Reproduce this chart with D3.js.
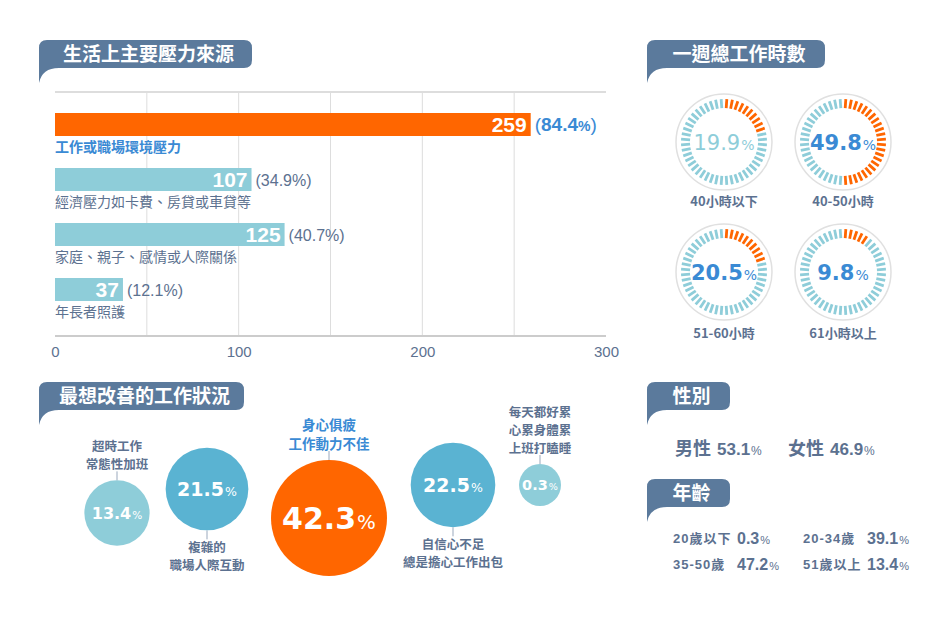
<!DOCTYPE html>
<html>
<head>
<meta charset="utf-8">
<script src="https://cdn.jsdelivr.net/npm/d3@7"></script>
<style>
  body { margin: 0; background: #fff; }
  svg { display: block; font-family: "Liberation Sans", "Noto Sans CJK TC", sans-serif; }
</style>
</head>
<body>
<div id="chart"></div>
<script>
const stressCategories = ["工作或職場環境壓力", "經濟壓力如卡費、房貸或車貸等", "家庭、親子、感情或人際關係", "年長者照護"];
const stressCounts = [259, 107, 125, 37];
const stressShares = [84.4, 34.9, 40.7, 12.1];
const stressTicks = [0, 100, 200, 300];

const hourLabels = ["40小時以下", "40-50小時", "51-60小時", "61小時以上"];
const hourShares = [19.9, 49.8, 20.5, 9.8];

const improveLabels = [
    ["超時工作", "常態性加班"],
    ["複雜的", "職場人際互動"],
    ["身心俱疲", "工作動力不佳"],
    ["自信心不足", "總是擔心工作出包"],
    ["每天都好累", "心累身體累", "上班打瞌睡"]
];
const improveShares = [13.4, 21.5, 42.3, 22.5, 0.3];

const genderLabels = ["男性", "女性"];
const genderShares = [53.1, 46.9];

const ageLabels = ["20歲以下", "20-34歲", "35-50歲", "51歲以上"];
const ageShares = [0.3, 39.1, 47.2, 13.4];

const width = 950;
const height = 617;
const col = {
    tab: "#5b7a9c",
    text: "#5c7190",
    blue: "#3a8ad4",
    orange: "#ff6600",
    teal: "#8ecdd9",
    mid: "#5ab3d2",
    grid: "#dddddd"
};
const CJK = '"Noto Sans CJK TC", sans-serif';
const NUM = '"DejaVu Sans", "Noto Sans CJK TC", sans-serif';

const svg = d3.select('#chart')
    .append('svg')
    .attr('width', width)
    .attr('height', height);

// speech-bubble style section header
function tab(x, y, w, label) {
    const h = 28, r = 8;
    const d = `M${x},${y + r} Q${x},${y} ${x + r},${y} H${x + w - r} Q${x + w},${y} ${x + w},${y + r}`
        + ` V${y + h - r} Q${x + w},${y + h} ${x + w - r},${y + h} H${x + 20} Q${x + 3},${y + h} ${x},${y + h + 15} Z`;
    svg.append('path').attr('d', d).attr('fill', col.tab);
    svg.append('text')
        .attr('x', x + w / 2 + 3)
        .attr('y', y + h / 2 + 7)
        .attr('text-anchor', 'middle')
        .attr('fill', '#fff')
        .attr('font-family', CJK)
        .attr('font-weight', 700)
        .attr('font-size', '19px')
        .text(label);
}

tab(39, 40, 213, "生活上主要壓力來源");
tab(647, 40, 178, "一週總工作時數");
tab(39, 382, 205, "最想改善的工作狀況");
tab(647, 382, 83, "性別");
tab(647, 479, 83, "年齡");

// ---------- bar chart ----------
const x = d3.scaleLinear()
    .domain([0, 300])
    .range([55, 606]);

const y = d3.scaleBand()
    .domain(d3.range(stressCounts.length))
    .range([113, 333]);

const barH = 23;
const gridTop = 92, gridBottom = 336;

svg.append('g')
    .selectAll('line')
    .data(d3.range(50, 300, 50))
    .join('line')
    .attr('x1', d => x(d)).attr('x2', d => x(d))
    .attr('y1', gridTop).attr('y2', gridBottom)
    .attr('stroke', col.grid)
    .attr('stroke-width', 1);

svg.append('line')
    .attr('x1', x(0)).attr('x2', x(300))
    .attr('y1', gridTop).attr('y2', gridTop)
    .attr('stroke', col.grid).attr('stroke-width', 2);

svg.append('line')
    .attr('x1', x(0)).attr('x2', x(300))
    .attr('y1', gridBottom).attr('y2', gridBottom)
    .attr('stroke', '#cccccc').attr('stroke-width', 2);

const bars = svg.append('g')
    .selectAll('g')
    .data(stressCounts)
    .join('g');

bars.append('rect')
    .attr('x', x(0))
    .attr('y', (d, i) => y(i))
    .attr('width', d => x(d) - x(0))
    .attr('height', barH)
    .attr('fill', (d, i) => i === 0 ? col.orange : col.teal);

bars.append('text')
    .attr('x', d => x(d) - 4)
    .attr('y', (d, i) => y(i) + barH / 2 + 7)
    .attr('text-anchor', 'end')
    .attr('fill', '#fff')
    .attr('font-weight', 700)
    .attr('font-size', '21px')
    .text(d => d);

bars.each(function (d, i) {
    const t = d3.select(this).append('text')
        .attr('x', x(d) + 4)
        .attr('y', y(i) + barH / 2 + 6);
    if (i === 0) {
        t.attr('fill', col.blue).attr('font-size', '19px');
        t.append('tspan').text('(');
        t.append('tspan').attr('font-weight', 700).text(stressShares[i]);
        t.append('tspan').attr('font-weight', 700).attr('font-size', '14px').text('%');
        t.append('tspan').text(')');
    } else {
        t.attr('fill', col.text).attr('font-size', '16px')
            .text(`(${stressShares[i]}%)`);
    }
});

bars.append('text')
    .attr('x', x(0))
    .attr('y', (d, i) => y(i) + 39)
    .attr('font-family', CJK)
    .attr('font-size', '14px')
    .attr('font-weight', (d, i) => i === 0 ? 700 : 400)
    .attr('fill', (d, i) => i === 0 ? col.blue : col.text)
    .text((d, i) => stressCategories[i]);

const xAxis = svg.append('g')
    .attr('transform', `translate(0, ${gridBottom})`)
    .call(d3.axisBottom(x).tickValues(stressTicks).tickSize(0).tickPadding(10));
xAxis.select('.domain').remove();
xAxis.selectAll('text')
    .attr('fill', col.text)
    .attr('font-size', '15px')
    .attr('font-family', '"Liberation Sans", sans-serif');

// ---------- weekly hours gauges ----------
const gaugeCenters = [[724, 142], [843, 142], [724, 272], [843, 272]];
const tickCount = 48;
const angle = d3.scaleLinear().domain([0, tickCount]).range([0, 2 * Math.PI]);

const gauges = svg.append('g')
    .selectAll('g')
    .data(hourShares)
    .join('g')
    .attr('transform', (d, i) => `translate(${gaugeCenters[i][0]},${gaugeCenters[i][1]})`);

gauges.append('circle')
    .attr('r', 48)
    .attr('fill', '#fff')
    .attr('stroke', '#e0e0e0')
    .attr('stroke-width', 1.5);

gauges.each(function (share) {
    const lit = Math.round(share / 100 * tickCount);
    d3.select(this).append('g')
        .selectAll('line')
        .data(d3.range(tickCount))
        .join('line')
        .attr('x1', k => Math.sin(angle(k + 0.5)) * 34)
        .attr('y1', k => -Math.cos(angle(k + 0.5)) * 34)
        .attr('x2', k => Math.sin(angle(k + 0.5)) * 43)
        .attr('y2', k => -Math.cos(angle(k + 0.5)) * 43)
        .attr('stroke', k => k < lit ? col.orange : col.teal)
        .attr('stroke-width', 2.8);
});

gauges.each(function (share, i) {
    const muted = i === 0;
    const t = d3.select(this).append('text')
        .attr('y', 7.5)
        .attr('text-anchor', 'middle')
        .attr('font-family', NUM)
        .attr('fill', muted ? col.teal : col.blue);
    t.append('tspan')
        .attr('font-size', '21px')
        .attr('font-weight', muted ? 400 : 700)
        .text(share);
    t.append('tspan')
        .attr('font-size', '14px')
        .attr('dx', 1)
        .text('%');
});

gauges.append('text')
    .attr('y', (d, i) => i < 2 ? 64 : 66)
    .attr('text-anchor', 'middle')
    .attr('fill', col.text)
    .attr('font-family', CJK)
    .attr('font-weight', 700)
    .attr('font-size', '13px')
    .text((d, i) => hourLabels[i]);

// ---------- improvement bubbles ----------
const bubbleX = [117, 207, 329, 453, 540];
const bubbleY = [513, 489, 518, 485, 485];
const labelAbove = [true, false, true, false, true];
const bubbleFill = [col.teal, col.mid, col.orange, col.mid, col.teal];
const valueSize = [16, 19, 30, 19, 14.5];

const r = d3.scaleSqrt().domain([0, 42.3]).range([0, 58]);
const radius = v => Math.max(21, r(v));

const bubbles = svg.append('g')
    .selectAll('g')
    .data(improveShares)
    .join('g')
    .attr('transform', (d, i) => `translate(${bubbleX[i]},${bubbleY[i]})`);

bubbles.append('circle')
    .attr('r', d => radius(d))
    .attr('fill', (d, i) => bubbleFill[i]);

bubbles.each(function (v, i) {
    const g = d3.select(this);
    const rad = radius(v);
    const t = g.append('text')
        .attr('y', valueSize[i] * 0.36)
        .attr('text-anchor', 'middle')
        .attr('fill', '#fff')
        .attr('font-family', NUM);
    t.append('tspan').attr('font-weight', 700).attr('font-size', valueSize[i] + 'px').text(v);
    t.append('tspan').attr('font-size', (valueSize[i] * 0.66) + 'px').attr('dx', 1).text('%');

    const lines = improveLabels[i];
    const hot = i === 2;
    const fs = hot ? 13.5 : 12.5;
    const lh = hot ? 19.5 : 18;
    const edge = labelAbove[i] ? -rad : rad;
    g.append('line')
        .attr('x1', 0).attr('x2', 0)
        .attr('y1', edge).attr('y2', labelAbove[i] ? edge - 9 : edge + 9)
        .attr('stroke', '#9aa9bd').attr('stroke-width', 1);
    const first = labelAbove[i] ? edge - 16 - (lines.length - 1) * lh : edge + 17;
    // one text element per label block, one tspan per line
    lines.forEach((s, k) => {
        g.append('text')
            .attr('y', first + k * lh + 5)
            .attr('text-anchor', 'middle')
            .attr('font-family', CJK)
            .attr('font-weight', 700)
            .attr('font-size', fs + 'px')
            .attr('fill', hot ? col.blue : col.text)
            .text(s);
    });
});

// ---------- gender ----------
svg.append('g')
    .selectAll('text')
    .data(genderShares)
    .join('text')
    .attr('x', (d, i) => 675 + i * 113)
    .attr('y', 455)
    .attr('fill', col.text)
    .attr('font-weight', 700)
    .each(function (d, i) {
        const t = d3.select(this);
        t.append('tspan').attr('font-family', CJK).attr('font-size', '18px').text(genderLabels[i]);
        t.append('tspan').attr('dx', 6).attr('font-size', '17px').text(d);
        t.append('tspan').attr('dx', 1).attr('font-weight', 400).attr('font-size', '12px').text('%');
    });

// ---------- age ----------
const ages = svg.append('g')
    .selectAll('g')
    .data(ageShares)
    .join('g')
    .attr('transform', (d, i) => `translate(${673 + (i % 2) * 130},${543 + Math.floor(i / 2) * 26})`);

ages.append('text')
    .attr('fill', col.text)
    .attr('font-weight', 700)
    .attr('font-size', '13px')
    .attr('letter-spacing', '1px')
    .attr('font-family', '"Liberation Sans", "Noto Sans CJK TC", sans-serif')
    .text((d, i) => ageLabels[i]);

ages.append('text')
    .attr('x', 64)
    .attr('y', 1)
    .attr('fill', col.text)
    .attr('font-weight', 700)
    .each(function (d) {
        const t = d3.select(this);
        t.append('tspan').attr('font-size', '16px').text(d);
        t.append('tspan').attr('dx', 1).attr('font-weight', 400).attr('font-size', '11px').text('%');
    });
</script>
</body>
</html>
